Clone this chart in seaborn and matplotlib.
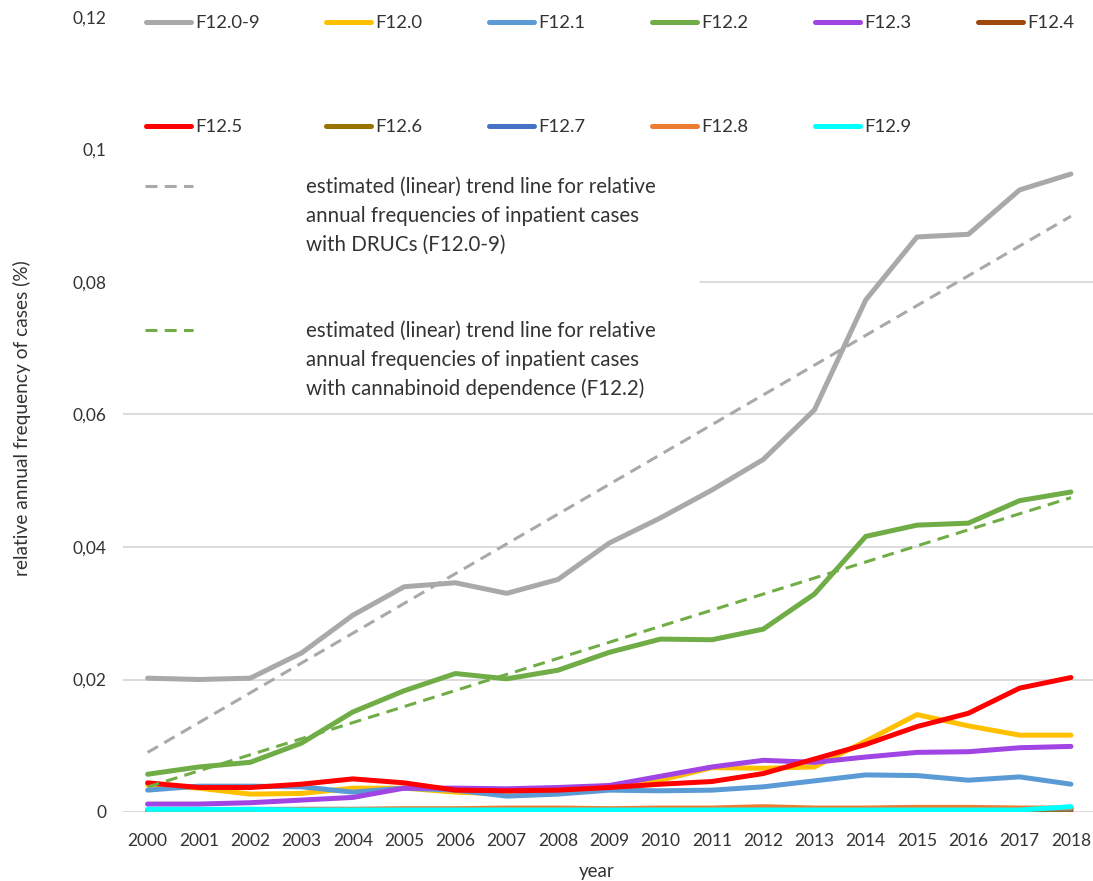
import numpy as np
import pandas as pd
import matplotlib
matplotlib.use("Agg")
import matplotlib.pyplot as plt
import seaborn as sns
from matplotlib.lines import Line2D
from matplotlib.ticker import FuncFormatter

# ---------------- data ----------------
years = [2000, 2001, 2002, 2003, 2004, 2005, 2006, 2007, 2008, 2009,
         2010, 2011, 2012, 2013, 2014, 2015, 2016, 2017, 2018]
series_names = ["F12.0-9", "F12.0", "F12.1", "F12.2", "F12.3", "F12.4",
                "F12.5", "F12.6", "F12.7", "F12.8", "F12.9"]
f12_09 = [0.0202, 0.0200, 0.0202, 0.0240, 0.0297, 0.0340, 0.0346, 0.0330, 0.0351, 0.0406,
          0.0444, 0.0486, 0.0532, 0.0607, 0.0773, 0.0868, 0.0872, 0.0939, 0.0963]
f12_0 = [0.0041, 0.0036, 0.0027, 0.0028, 0.0036, 0.0036, 0.0030, 0.0027, 0.0031, 0.0037,
         0.0048, 0.0067, 0.0066, 0.0068, 0.0107, 0.0147, 0.0130, 0.0116, 0.0116]
f12_1 = [0.0033, 0.0039, 0.0039, 0.0038, 0.0030, 0.0036, 0.0033, 0.0024, 0.0027, 0.0033,
         0.0032, 0.0033, 0.0038, 0.0047, 0.0056, 0.0055, 0.0048, 0.0053, 0.0042]
f12_2 = [0.0057, 0.0068, 0.0075, 0.0104, 0.0151, 0.0183, 0.0209, 0.0201, 0.0214, 0.0241,
         0.0261, 0.0260, 0.0276, 0.0329, 0.0416, 0.0433, 0.0436, 0.0470, 0.0483]
f12_3 = [0.0012, 0.0012, 0.0014, 0.0018, 0.0022, 0.0036, 0.0036, 0.0035, 0.0037, 0.0040,
         0.0054, 0.0068, 0.0078, 0.0075, 0.0083, 0.0090, 0.0091, 0.0097, 0.0099]
f12_4 = [0.0001, 0.0001, 0.0001, 0.0001, 0.0001, 0.0001, 0.0001, 0.0001, 0.0001, 0.0001,
         0.0001, 0.0001, 0.0001, 0.0001, 0.0001, 0.0001, 0.0001, 0.0001, 0.0002]
f12_5 = [0.0044, 0.0037, 0.0037, 0.0042, 0.0050, 0.0044, 0.0033, 0.0032, 0.0033, 0.0037,
         0.0042, 0.0046, 0.0058, 0.0080, 0.0102, 0.0129, 0.0149, 0.0187, 0.0203]
f12_6 = [0.0000, 0.0000, 0.0000, 0.0000, 0.0000, 0.0000, 0.0000, 0.0000, 0.0000, 0.0000,
         0.0000, 0.0000, 0.0000, 0.0000, 0.0000, 0.0000, 0.0000, 0.0000, 0.0004]
f12_7 = [0.0003, 0.0003, 0.0004, 0.0004, 0.0004, 0.0004, 0.0004, 0.0004, 0.0004, 0.0004,
         0.0004, 0.0004, 0.0004, 0.0005, 0.0005, 0.0006, 0.0005, 0.0005, 0.0005]
f12_8 = [0.0001, 0.0002, 0.0003, 0.0004, 0.0004, 0.0005, 0.0005, 0.0006, 0.0006, 0.0005,
         0.0006, 0.0006, 0.0008, 0.0006, 0.0006, 0.0007, 0.0007, 0.0006, 0.0006]
f12_9 = [0.0004, 0.0004, 0.0004, 0.0003, 0.0003, 0.0003, 0.0003, 0.0003, 0.0003, 0.0003,
         0.0003, 0.0003, 0.0003, 0.0003, 0.0003, 0.0003, 0.0003, 0.0003, 0.0008]
series_values = [f12_09, f12_0, f12_1, f12_2, f12_3, f12_4, f12_5, f12_6, f12_7, f12_8, f12_9]
y_ticks = [0, 0.02, 0.04, 0.06, 0.08, 0.1, 0.12]
trend_labels_1 = ["estimated (linear) trend line for relative",
                  "annual frequencies of inpatient cases",
                  "with DRUCs (F12.0-9)"]
trend_labels_2 = ["estimated (linear) trend line for relative",
                  "annual frequencies of inpatient cases",
                  "with cannabinoid dependence (F12.2)"]

colors = {"F12.0-9": "#A9A9A9", "F12.0": "#FFC000", "F12.1": "#5B9BD5",
          "F12.2": "#70AD47", "F12.3": "#A044E4", "F12.4": "#9E480E",
          "F12.5": "#FF0000", "F12.6": "#997300", "F12.7": "#4472C4",
          "F12.8": "#ED7D31", "F12.9": "#00FFFF"}

df = pd.DataFrame({
    "year": years * len(series_names),
    "series": [n for n in series_names for _ in years],
    "value": [v for vals in series_values for v in vals],
})

# ---------------- figure ----------------
sns.set_theme(style="white")
plt.rcParams["font.family"] = ["Lato", "DejaVu Sans"]
TXT = "#333333"

W, H = 1093, 881
fig = plt.figure(figsize=(W / 100, H / 100), dpi=100)
ax = fig.add_axes([123 / W, (H - 812) / H, (W - 123) / W, 795 / H])

sns.lineplot(data=df, x="year", y="value", hue="series", hue_order=series_names,
             palette=colors, linewidth=3.6, legend=False, estimator=None, ax=ax,
             solid_capstyle="round", solid_joinstyle="round")

dash = (0, (3.9, 2.4))
sns.regplot(x=np.array(years), y=np.array(f12_09), scatter=False, ci=None, ax=ax,
            line_kws=dict(color="#A9A9A9", lw=2.2, ls=dash))
sns.regplot(x=np.array(years), y=np.array(f12_2), scatter=False, ci=None, ax=ax,
            line_kws=dict(color="#70AD47", lw=2.2, ls=dash))

ax.set_xlim(1999.52, 2018.43)
ax.set_ylim(0, 0.12)
ax.set_xticks(years)
ax.set_xticklabels([str(y) for y in years])
ax.set_yticks(y_ticks)
ax.yaxis.set_major_formatter(FuncFormatter(lambda v, p: f"{v:g}".replace(".", ",")))
ax.tick_params(axis="both", length=0, labelsize=12.5, colors=TXT)
ax.tick_params(axis="y", pad=12)
ax.tick_params(axis="x", pad=15)
for s in ax.spines.values():
    s.set_visible(False)
ax.grid(axis="y", color="#D9D9D9", lw=1.3)
ax.grid(axis="x", visible=False)
ax.set_axisbelow(True)

ax.set_xlabel("year", fontsize=13.5, color=TXT)
ax.set_ylabel("relative annual frequency of cases (%)", fontsize=13.8, color=TXT)
ax.xaxis.set_label_coords((597 - 123) / 970, -0.064)
ax.yaxis.set_label_coords((31 - 123) / 970, 0.495)

# ---------------- legends ----------------
order = [0, 6, 1, 7, 2, 8, 3, 9, 4, 10, 5]
h1 = [Line2D([], [], color=colors[series_names[i]], lw=3.6, solid_capstyle="round") for i in order]
l1 = [series_names[i] for i in order]
leg1 = fig.legend(handles=h1, labels=l1, ncol=6, loc="upper left",
                  bbox_to_anchor=(146 / W, 1 - 15 / H), frameon=False, fontsize=13.3,
                  handlelength=2.43, handletextpad=0.22, labelspacing=4.77,
                  columnspacing=3.62, borderpad=0, borderaxespad=0, labelcolor=TXT)

blank = Line2D([], [], color="none")
h2 = [Line2D([], [], color="#A9A9A9", lw=2.2, ls=dash), blank, blank, blank, blank,
      Line2D([], [], color="#70AD47", lw=2.2, ls=dash), blank, blank]
l2 = trend_labels_1 + [" ", " "] + trend_labels_2
leg2 = fig.legend(handles=h2, labels=l2, ncol=1, loc="upper left",
                  bbox_to_anchor=(145 / W, 1 - 177 / H), frameon=False, fontsize=14.8,
                  handlelength=2.33, handletextpad=5.5, labelspacing=0.43,
                  borderpad=0, borderaxespad=0, labelcolor=TXT)

# gridlines hidden behind the legend area
fig.canvas.draw()
x0, x1 = ax.get_xlim()
frac = (2010.76 - x0) / (x1 - x0)
for tick, val in zip(ax.yaxis.get_major_ticks(), y_ticks):
    if val >= 0.1:
        tick.gridline.set_visible(False)
    elif abs(val - 0.08) < 1e-9:
        tick.gridline.set_xdata([frac, 1])

fig.savefig("out.png", dpi=100)
